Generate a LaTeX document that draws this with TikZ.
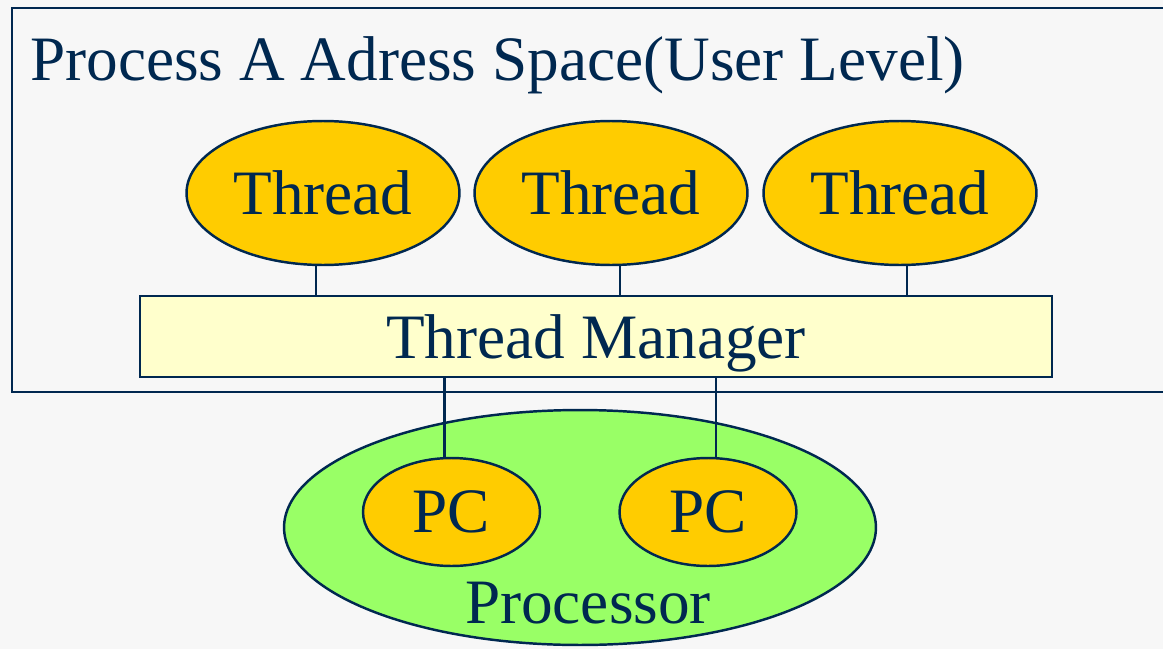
\documentclass[tikz,border=0pt]{standalone}
\usepackage{fontspec}
\setmainfont{Liberation Serif}
\usetikzlibrary{shapes.geometric}

\definecolor{ink}{HTML}{002850}
\definecolor{pagegray}{HTML}{F7F7F7}
\definecolor{threadyellow}{HTML}{FFCC00}
\definecolor{managercream}{HTML}{FFFFCC}
\definecolor{cpugreen}{HTML}{99FF66}

\def\bigtext{\fontsize{36}{43}\selectfont}

\tikzset{
    bubble/.style = {ellipse, draw=ink, fill=threadyellow, line width=1.4pt, inner sep=0pt},
    link/.style = {draw=ink, line width=1.4pt},
}

\begin{document}
\begin{tikzpicture}[x=0.02cm, y=-0.02cm, text=ink, font=\bigtext]
            \fill [pagegray] (0,0) rectangle (1163,649);
            \clip (0,0) rectangle (1163,649);
            % user level address space
            \draw [ink, line width=1.4pt] (12,8) rectangle (1180,392);
            \node [anchor=base west, inner sep=0pt] (title) at (30,80)
                {Process A Adress Space(User Level)};
            \foreach \name/\x in {threadA/323, threadB/611, threadC/900} {
                \node [bubble, minimum width=5.46cm, minimum height=2.88cm]
                (\name) at (\x,193) {Thread};
            }
            \node [draw=ink, fill=managercream, line width=1.4pt, inner sep=0pt,
                text depth=0pt, minimum width=18.24cm, minimum height=1.62cm]
                (manager) at (596,336.5) {Thread Manager};
            % processor with its two program counters
            \node [ellipse, draw=ink, fill=cpugreen, line width=1.4pt,
                minimum width=11.84cm, minimum height=4.7cm] (processor) at (580,527.5) {};
            \node [anchor=base, inner sep=0pt] (proclabel) at (588,623) {Processor};
            \foreach \name/\x in {pcA/451.5, pcB/708} {
                \node [bubble, minimum width=3.54cm, minimum height=2.16cm]
                (\name) at (\x,512) {PC};
            }
            % links sit a little off centre
            \foreach \name/\dx in {threadA/-7, threadB/9, threadC/7} {
                \draw [link] ([xshift=\dx*0.02cm]\name.south)
                    -- ([xshift=\dx*0.02cm]\name.south |- manager.north);
            }
            \foreach \name/\dx in {pcA/-7, pcB/8} {
                \draw [link] ([xshift=\dx*0.02cm]\name.north)
                    -- ([xshift=\dx*0.02cm]\name.north |- manager.south);
            }
        \end{tikzpicture}
\end{document}
